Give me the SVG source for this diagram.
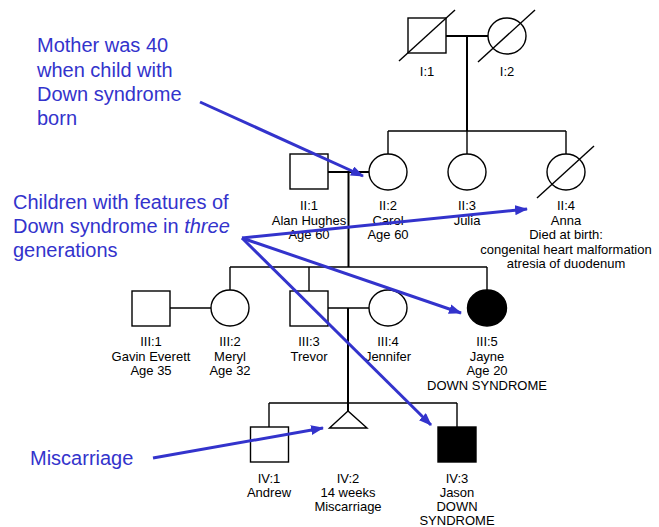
<svg xmlns="http://www.w3.org/2000/svg" width="659" height="527" viewBox="0 0 659 527">
<style>
.sym{fill:#fff;stroke:#000;stroke-width:1.4}
.aff{fill:#000;stroke:#000;stroke-width:1.4}
.ln{stroke:#000;stroke-width:1.4;fill:none}
.mar{stroke:#000;stroke-width:2;fill:none}
.lbl{font-family:"Liberation Sans",Arial,sans-serif;font-size:13px;fill:#000;text-anchor:middle}
.note{font-family:"Liberation Sans",Arial,sans-serif;font-size:20px;fill:#3333CC}
.arr{stroke:#3333CC;stroke-width:3;fill:none;marker-end:url(#ah)}
</style>
<defs>
<marker id="ah" markerUnits="userSpaceOnUse" viewBox="0 0 13 10" markerWidth="13" markerHeight="10" refX="12" refY="5" orient="auto">
<path d="M0,0 L13,5 L0,10 z" fill="#3333CC"/>
</marker>
</defs>
<rect width="659" height="527" fill="#fff"/>

<g id="connectors">
<line class="mar" x1="446" y1="36" x2="488" y2="36"/>
<line class="mar" x1="467" y1="36" x2="467" y2="131"/>
<line class="ln" x1="388" y1="131" x2="566" y2="131"/>
<line class="ln" x1="388" y1="131" x2="388" y2="154"/>
<line class="ln" x1="467" y1="131" x2="467" y2="154"/>
<line class="ln" x1="566" y1="131" x2="566" y2="154"/>
<line class="mar" x1="328" y1="172" x2="369" y2="172"/>
<line class="mar" x1="348.5" y1="172" x2="348.5" y2="267"/>
<line class="ln" x1="230" y1="267" x2="487" y2="267"/>
<line class="ln" x1="230" y1="267" x2="230" y2="290"/>
<line class="ln" x1="309" y1="267" x2="309" y2="291"/>
<line class="ln" x1="487" y1="267" x2="487" y2="290"/>
<line class="ln" x1="170" y1="308" x2="211" y2="308"/>
<line class="ln" x1="328" y1="308" x2="369" y2="308"/>
<line class="mar" x1="348" y1="308" x2="348" y2="403"/>
<line class="ln" x1="269" y1="403" x2="457" y2="403"/>
<line class="ln" x1="269" y1="403" x2="269" y2="427"/>
<line class="mar" x1="348" y1="403" x2="348" y2="411"/>
<line class="ln" x1="457" y1="403" x2="457" y2="427"/>
</g>

<g id="I1">
<rect class="sym" x="408" y="18" width="38" height="35"/>
<line class="ln" x1="399" y1="61" x2="455" y2="10"/>
<text class="lbl" x="427" y="76">I:1</text>
</g>
<g id="I2">
<ellipse class="sym" cx="507" cy="36" rx="19" ry="18"/>
<line class="ln" x1="478" y1="62" x2="535" y2="10"/>
<text class="lbl" x="507" y="76">I:2</text>
</g>

<g id="II1">
<rect class="sym" x="290" y="154" width="38" height="35"/>
<text class="lbl" x="309" y="210">II:1</text>
<text class="lbl" x="309" y="224.5">Alan Hughes</text>
<text class="lbl" x="309" y="239">Age 60</text>
</g>
<g id="II2">
<ellipse class="sym" cx="388" cy="172" rx="19" ry="18"/>
<text class="lbl" x="388" y="210">II:2</text>
<text class="lbl" x="388" y="224.5">Carol</text>
<text class="lbl" x="388" y="239">Age 60</text>
</g>
<g id="II3">
<ellipse class="sym" cx="467" cy="172" rx="19" ry="18"/>
<text class="lbl" x="467" y="210">II:3</text>
<text class="lbl" x="467" y="224.5">Julia</text>
</g>
<g id="II4">
<ellipse class="sym" cx="566" cy="172" rx="19" ry="18"/>
<line class="ln" x1="537" y1="198" x2="594" y2="146"/>
<text class="lbl" x="566" y="210">II:4</text>
<text class="lbl" x="566" y="224.5">Anna</text>
<text class="lbl" x="566" y="239">Died at birth:</text>
<text class="lbl" x="566" y="253.5">congenital heart malformation</text>
<text class="lbl" x="566" y="268">atresia of duodenum</text>
</g>

<g id="III1">
<rect class="sym" x="132" y="291" width="38" height="35"/>
<text class="lbl" x="151" y="346">III:1</text>
<text class="lbl" x="151" y="360.5">Gavin Everett</text>
<text class="lbl" x="151" y="375">Age 35</text>
</g>
<g id="III2">
<ellipse class="sym" cx="230" cy="308" rx="19" ry="18"/>
<text class="lbl" x="230" y="346">III:2</text>
<text class="lbl" x="230" y="360.5">Meryl</text>
<text class="lbl" x="230" y="375">Age 32</text>
</g>
<g id="III3">
<rect class="sym" x="290" y="291" width="38" height="35"/>
<text class="lbl" x="309" y="346">III:3</text>
<text class="lbl" x="309" y="360.5">Trevor</text>
</g>
<g id="III4">
<ellipse class="sym" cx="388" cy="308" rx="19" ry="18"/>
<text class="lbl" x="388" y="346">III:4</text>
<text class="lbl" x="388" y="360.5">Jennifer</text>
</g>
<g id="III5">
<ellipse class="aff" cx="487" cy="308" rx="19.5" ry="18"/>
<text class="lbl" x="487" y="346">III:5</text>
<text class="lbl" x="487" y="360.5">Jayne</text>
<text class="lbl" x="487" y="375">Age 20</text>
<text class="lbl" x="487" y="389.5">DOWN SYNDROME</text>
</g>

<g id="IV1">
<rect class="sym" x="250.5" y="427" width="38" height="35"/>
<text class="lbl" x="269" y="482.5">IV:1</text>
<text class="lbl" x="269" y="497">Andrew</text>
</g>
<g id="IV2">
<polygon class="sym" points="348,411 329.5,428 367,428"/>
<text class="lbl" x="348" y="482.5">IV:2</text>
<text class="lbl" x="348" y="497">14 weeks</text>
<text class="lbl" x="348" y="511">Miscarriage</text>
</g>
<g id="IV3">
<rect class="aff" x="438" y="427" width="38" height="35"/>
<text class="lbl" x="457" y="482.5">IV:3</text>
<text class="lbl" x="457" y="497">Jason</text>
<text class="lbl" x="457" y="511">DOWN</text>
<text class="lbl" x="457" y="525">SYNDROME</text>
</g>

<g id="note-mother">
<text class="note" x="37" y="52">Mother was 40</text>
<text class="note" x="37" y="76.5">when child with</text>
<text class="note" x="37" y="100.5">Down syndrome</text>
<text class="note" x="37" y="125">born</text>
</g>
<g id="note-children">
<text class="note" x="13" y="208.5">Children with features of</text>
<text class="note" x="13" y="233">Down syndrome in <tspan font-style="italic">three</tspan></text>
<text class="note" x="13" y="257">generations</text>
</g>
<g id="note-miscarriage">
<text class="note" x="30" y="465">Miscarriage</text>
</g>

<g id="annotation-arrows">
<line class="arr" x1="200" y1="102" x2="363" y2="176"/>
<line class="arr" x1="242" y1="238" x2="527" y2="209"/>
<line class="arr" x1="242" y1="238" x2="461" y2="313"/>
<line class="arr" x1="242" y1="238" x2="431" y2="425"/>
<line class="arr" x1="153" y1="458" x2="323" y2="428"/>
</g>
</svg>
